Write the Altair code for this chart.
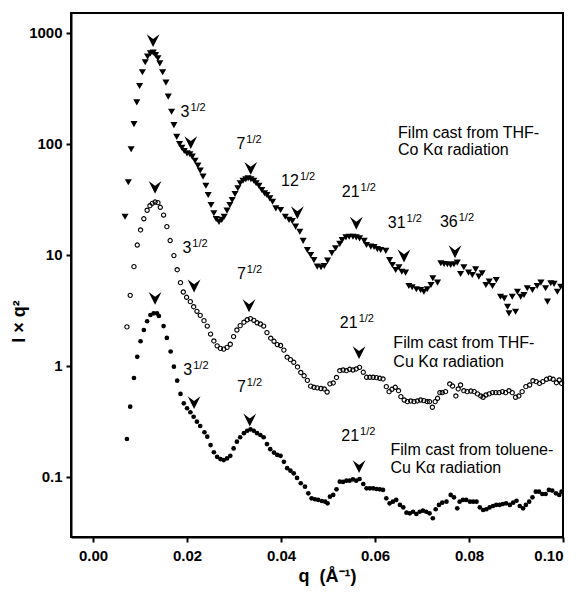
import altair as alt
import pandas as pd

FONT = "Liberation Sans"

# (q, I*q^2) — film cast from THF, Co K-alpha (filled down-triangles)
tri_points = [
    (0.0068, 22.1), (0.0075, 45.2), (0.0081, 89.6), (0.0087, 151), (0.0093, 237),
    (0.0099, 333), (0.0105, 443), (0.0111, 545), (0.0116, 612), (0.0122, 656),
    (0.0128, 665), (0.0133, 634), (0.0138, 592), (0.0142, 533), (0.0148, 443),
    (0.0155, 357), (0.0160, 267), (0.0167, 195), (0.0172, 148), (0.0178, 116),
    (0.0184, 100), (0.0189, 92.6), (0.0194, 86.5), (0.0200, 82.4), (0.0206, 80.8),
    (0.0211, 76.9), (0.0217, 70.7), (0.0223, 63.8), (0.0228, 57.5), (0.0234, 50.8),
    (0.0240, 42.1), (0.0245, 34.7), (0.0251, 28.2), (0.0257, 23.8), (0.0262, 21.1),
    (0.0268, 19.9), (0.0274, 20.7), (0.0279, 22.1), (0.0285, 25.1), (0.0291, 28.2),
    (0.0296, 31.3), (0.0302, 35.4), (0.0308, 39.9), (0.0313, 44.3), (0.0319, 46.7),
    (0.0325, 48.1), (0.0330, 49.1), (0.0336, 48.1), (0.0342, 46.7), (0.0347, 44.3),
    (0.0353, 42.1), (0.0359, 38.5), (0.0365, 35.9), (0.0370, 34.7), (0.0376, 32.4),
    (0.0382, 30.2), (0.0389, 26.3), (0.0399, 25.4), (0.0409, 22.1), (0.0417, 20.7),
    (0.0424, 20.2), (0.0431, 18.0), (0.0440, 16.2), (0.0447, 13.4), (0.0456, 11.1),
    (0.0463, 10.0), (0.0470, 9.0), (0.0477, 7.85), (0.0485, 7.75), (0.0492, 7.96),
    (0.0499, 8.89), (0.0508, 10.4), (0.0516, 11.5), (0.0525, 12.6), (0.0530, 13.6),
    (0.0538, 14.4), (0.0545, 14.6), (0.0553, 14.6), (0.0560, 14.4), (0.0567, 14.1),
    (0.0577, 13.4), (0.0582, 12.3), (0.0591, 11.9), (0.0598, 11.8), (0.0605, 11.3),
    (0.0612, 11.1), (0.0623, 10.9), (0.0631, 9.0), (0.0637, 8.13), (0.0644, 7.33),
    (0.0651, 7.75), (0.0657, 7.07), (0.0665, 6.93), (0.0672, 5.26), (0.0679, 5.12),
    (0.0688, 4.91), (0.0697, 4.84), (0.0704, 4.67), (0.0711, 4.91), (0.0719, 5.37),
    (0.0723, 6.17), (0.0733, 5.63), (0.0740, 8.42), (0.0747, 8.30), (0.0754, 8.25),
    (0.0761, 8.13), (0.0768, 8.25), (0.0775, 8.53), (0.0782, 6.74), (0.0789, 7.75),
    (0.0799, 6.93), (0.0807, 6.60), (0.0814, 7.43), (0.0821, 6.38), (0.0828, 6.84),
    (0.0836, 5.37), (0.0843, 5.75), (0.0850, 5.26), (0.0858, 5.95), (0.0867, 4.21),
    (0.0875, 4.07), (0.0882, 3.42), (0.0885, 2.98), (0.0892, 4.21), (0.0899, 3.08),
    (0.0903, 4.67), (0.0910, 4.21), (0.0917, 4.36), (0.0924, 5.01), (0.0935, 4.84),
    (0.0945, 5.26), (0.0953, 5.63), (0.0963, 5.01), (0.0967, 3.80), (0.0974, 5.56),
    (0.0981, 5.49), (0.0988, 4.67), (0.0995, 5.18),
]

# film cast from THF, Cu K-alpha (open circles)
open_points = [
    (0.0072, 2.25), (0.0079, 4.33), (0.0087, 7.85), (0.0094, 12.3), (0.0101, 16.8),
    (0.0108, 21.2), (0.0115, 25.3), (0.0121, 27.8), (0.0126, 29.2), (0.0132, 30.0),
    (0.0138, 29.6), (0.0143, 26.9), (0.0150, 22.9), (0.0157, 18.0), (0.0164, 13.5),
    (0.0172, 9.88), (0.0179, 7.37), (0.0186, 5.63), (0.0192, 4.64), (0.0199, 4.16),
    (0.0207, 3.80), (0.0214, 3.42), (0.0221, 3.11), (0.0228, 2.86), (0.0236, 2.56),
    (0.0243, 2.29), (0.0250, 1.94), (0.0257, 1.68), (0.0264, 1.52), (0.0271, 1.44),
    (0.0278, 1.42), (0.0285, 1.47), (0.0292, 1.57), (0.0299, 1.84), (0.0306, 2.11),
    (0.0313, 2.31), (0.0321, 2.48), (0.0328, 2.61), (0.0335, 2.67), (0.0342, 2.58),
    (0.0349, 2.45), (0.0356, 2.39), (0.0363, 2.29), (0.0370, 2.00), (0.0378, 1.78),
    (0.0385, 1.67), (0.0392, 1.56), (0.0399, 1.53), (0.0406, 1.39), (0.0413, 1.20),
    (0.0420, 1.14), (0.0427, 1.08), (0.0435, 0.98), (0.0442, 0.874), (0.0449, 0.816),
    (0.0456, 0.743), (0.0463, 0.658), (0.0470, 0.643), (0.0477, 0.636), (0.0485, 0.627),
    (0.0492, 0.621), (0.0498, 0.583), (0.0504, 0.691), (0.0511, 0.703), (0.0518, 0.788),
    (0.0525, 0.907), (0.0532, 0.920), (0.0539, 0.907), (0.0546, 0.934), (0.0553, 0.920),
    (0.0560, 0.940), (0.0567, 0.973), (0.0575, 0.878), (0.0582, 0.791), (0.0589, 0.791),
    (0.0596, 0.791), (0.0603, 0.785), (0.0610, 0.775), (0.0617, 0.764), (0.0624, 0.651),
    (0.0630, 0.587), (0.0636, 0.617), (0.0643, 0.643), (0.0650, 0.599), (0.0655, 0.529),
    (0.0662, 0.494), (0.0669, 0.477), (0.0676, 0.484), (0.0683, 0.477), (0.0690, 0.484),
    (0.0697, 0.494), (0.0704, 0.487), (0.0711, 0.477), (0.0716, 0.477), (0.0722, 0.425),
    (0.0728, 0.477), (0.0733, 0.512), (0.0738, 0.575), (0.0743, 0.575), (0.0750, 0.587),
    (0.0759, 0.689), (0.0765, 0.660), (0.0772, 0.537), (0.0777, 0.621), (0.0782, 0.674),
    (0.0789, 0.599), (0.0796, 0.587), (0.0804, 0.595), (0.0811, 0.587), (0.0818, 0.560),
    (0.0825, 0.537), (0.0830, 0.523), (0.0836, 0.548), (0.0843, 0.560), (0.0850, 0.575),
    (0.0857, 0.575), (0.0864, 0.575), (0.0871, 0.587), (0.0878, 0.575), (0.0885, 0.599),
    (0.0892, 0.575), (0.0899, 0.523), (0.0906, 0.537), (0.0913, 0.587), (0.0921, 0.651),
    (0.0929, 0.674), (0.0936, 0.737), (0.0943, 0.722), (0.0950, 0.698), (0.0957, 0.722),
    (0.0965, 0.759), (0.0972, 0.775), (0.0979, 0.759), (0.0986, 0.707), (0.0992, 0.748),
    (0.0997, 0.698),
]

# film cast from toluene, Cu K-alpha (filled circles)
filled_points = [
    (0.0072, 0.220), (0.0079, 0.430), (0.0087, 0.780), (0.0094, 1.21), (0.0101, 1.67),
    (0.0108, 2.11), (0.0115, 2.53), (0.0122, 2.88), (0.0129, 2.98), (0.0136, 2.98),
    (0.0140, 2.82), (0.0150, 2.29), (0.0157, 1.79), (0.0165, 1.35), (0.0172, 0.986),
    (0.0179, 0.737), (0.0186, 0.560), (0.0193, 0.461), (0.0200, 0.416), (0.0207, 0.383),
    (0.0214, 0.349), (0.0221, 0.315), (0.0228, 0.288), (0.0237, 0.253), (0.0243, 0.231),
    (0.0250, 0.194), (0.0257, 0.167), (0.0264, 0.152), (0.0271, 0.145), (0.0278, 0.142),
    (0.0285, 0.147), (0.0292, 0.155), (0.0299, 0.181), (0.0306, 0.208), (0.0313, 0.228),
    (0.0321, 0.248), (0.0328, 0.261), (0.0335, 0.269), (0.0342, 0.261), (0.0349, 0.248),
    (0.0356, 0.239), (0.0363, 0.228), (0.0370, 0.198), (0.0377, 0.178), (0.0385, 0.166),
    (0.0392, 0.158), (0.0399, 0.155), (0.0406, 0.137), (0.0413, 0.120), (0.0420, 0.114),
    (0.0427, 0.108), (0.0434, 0.098), (0.0442, 0.0878), (0.0451, 0.0818), (0.0458, 0.0713),
    (0.0465, 0.0643), (0.0472, 0.0630), (0.0479, 0.0621), (0.0487, 0.0608), (0.0494, 0.0599),
    (0.0499, 0.0579), (0.0504, 0.0665), (0.0511, 0.0689), (0.0518, 0.0775), (0.0525, 0.0908),
    (0.0532, 0.0902), (0.0539, 0.0927), (0.0546, 0.0927), (0.0553, 0.0953), (0.0560, 0.0927),
    (0.0567, 0.0959), (0.0575, 0.0865), (0.0582, 0.0791), (0.0589, 0.0791), (0.0596, 0.0791),
    (0.0603, 0.0780), (0.0610, 0.0775), (0.0617, 0.0764), (0.0624, 0.0643), (0.0631, 0.0579),
    (0.0638, 0.0599), (0.0645, 0.0621), (0.0653, 0.0560), (0.0660, 0.0533), (0.0667, 0.0477),
    (0.0674, 0.0471), (0.0681, 0.0486), (0.0688, 0.0464), (0.0695, 0.0486), (0.0702, 0.0497),
    (0.0709, 0.0486), (0.0716, 0.0471), (0.0723, 0.0425), (0.0729, 0.0512), (0.0736, 0.0560),
    (0.0743, 0.0587), (0.0752, 0.0599), (0.0761, 0.0689), (0.0768, 0.0656), (0.0775, 0.0522),
    (0.0780, 0.0599), (0.0787, 0.0621), (0.0794, 0.0621), (0.0802, 0.0599), (0.0809, 0.0599),
    (0.0816, 0.0599), (0.0823, 0.0533), (0.0830, 0.0504), (0.0837, 0.0512), (0.0844, 0.0533),
    (0.0851, 0.0548), (0.0858, 0.0560), (0.0865, 0.0560), (0.0872, 0.0571), (0.0879, 0.0579),
    (0.0887, 0.0560), (0.0894, 0.0587), (0.0901, 0.0611), (0.0908, 0.0548), (0.0915, 0.0522),
    (0.0921, 0.0560), (0.0928, 0.0599), (0.0935, 0.0656), (0.0942, 0.0737), (0.0949, 0.0737),
    (0.0956, 0.0703), (0.0963, 0.0703), (0.0970, 0.0764), (0.0977, 0.0755), (0.0985, 0.0713),
    (0.0992, 0.0689), (0.0997, 0.0737),
]

# peak markers (down arrowheads)
arrow_points = [
    (0.01277, 853), (0.02079, 103), (0.03355, 60.4), (0.04347, 24.0), (0.05602, 19.3),
    (0.06617, 9.8), (0.07702, 10.7),
    (0.01319, 40.7), (0.02149, 5.26), (0.03319, 3.49), (0.0566, 1.32),
    (0.01319, 4.07), (0.02149, 0.467), (0.03334, 0.326), (0.0566, 0.124),
]

# sqrt labels: (q at join of number and exponent, value at baseline, number)
sqrt_labels = [
    (0.0205, 176, "3"), (0.0324, 89.6, "7"), (0.0438, 41.9, "12"), (0.0567, 33.5, "21"),
    (0.0665, 17.4, "31"), (0.0776, 17.8, "36"),
    (0.0209, 10.4, "3"), (0.0325, 6.04, "7"), (0.0563, 2.19, "21"),
    (0.0211, 0.830, "3"), (0.0325, 0.587, "7"), (0.0566, 0.212, "21"),
]

series_labels = [
    (0.0649, 125, "Film cast from THF-"), (0.0649, 88.3, "Co Kα radiation"),
    (0.0639, 1.60, "Film cast from THF-"), (0.0639, 1.093, "Cu Kα radiation"),
    (0.0633, 0.175, "Film cast from toluene-"), (0.0633, 0.120, "Cu Kα radiation"),
]

x_ticks = [0.0, 0.02, 0.04, 0.06, 0.08, 0.10]
y_ticks = [0.1, 1, 10, 100, 1000]

tri_df = pd.DataFrame(tri_points, columns=["q", "v"])
open_df = pd.DataFrame(open_points, columns=["q", "v"])
fill_df = pd.DataFrame(filled_points, columns=["q", "v"])
arrow_df = pd.DataFrame(arrow_points, columns=["q", "v"])
lab_df = pd.DataFrame(sqrt_labels, columns=["q", "v", "t"])
lab_df["sup"] = "1/2"
ser_df = pd.DataFrame(series_labels, columns=["q", "v", "t"])

xs = alt.Scale(domain=[-0.0047, 0.1], nice=False, zero=False)
ys = alt.Scale(type="log", domain=[0.0288, 1514], nice=False)

x_axis = alt.Axis(
    values=x_ticks, format=".2f", title="q\u00a0\u00a0(Å⁻¹)", labelPadding=6,
    titleX=256, titleY=39, titleAlign="center", titleBaseline="middle",
)
y_axis = alt.Axis(
    values=y_ticks, format="~g", title="I × q²", labelPadding=4,
    titleX=-52, titleY=308, titleAlign="center", titleBaseline="middle", titleAngle=-90,
)


def enc(**kw):
    return dict(
        x=alt.X("q:Q", scale=xs, axis=x_axis),
        y=alt.Y("v:Q", scale=ys, axis=y_axis),
        **kw,
    )


tri_layer = alt.Chart(tri_df).mark_point(
    shape="triangle-down", filled=True, color="black", size=50, opacity=1
).encode(**enc())

open_layer = alt.Chart(open_df).mark_point(
    shape="circle", filled=False, color="black", size=18, strokeWidth=1.1, opacity=1
).encode(**enc())

fill_layer = alt.Chart(fill_df).mark_point(
    shape="circle", filled=True, color="black", size=22, opacity=1
).encode(**enc())

arrow_layer = alt.Chart(arrow_df).mark_point(
    shape="M -1 -1 L 0 -0.25 L 1 -1 L 0 1 Z", filled=True, color="black", size=165, opacity=1
).encode(**enc())

base_text = alt.Chart(lab_df).mark_text(
    font=FONT, fontSize=16, align="right", baseline="alphabetic", color="black"
).encode(**enc(text="t:N"))

sup_text = alt.Chart(lab_df).mark_text(
    font=FONT, fontSize=11, align="left", baseline="alphabetic", dx=1, dy=-6, color="black"
).encode(**enc(text="sup:N"))

series_text = alt.Chart(ser_df).mark_text(
    font=FONT, fontSize=16, align="left", baseline="middle", color="black"
).encode(**enc(text="t:N"))

chart = (
    alt.layer(tri_layer, open_layer, fill_layer, arrow_layer, base_text, sup_text, series_text)
    .properties(
        width=492, height=524,
        autosize=alt.AutoSizeParams(type="none"),
        padding={"left": 63, "top": 5, "right": 6, "bottom": 50},
        background="white",
    )
    .configure_view(stroke="black", strokeWidth=2)
    .configure_axis(
        grid=False, domainColor="black", domainWidth=2, tickColor="black", tickWidth=2,
        tickSize=5, labelFont=FONT, labelFontSize=15, labelFontWeight="bold",
        labelColor="black", titleFont=FONT, titleFontSize=18, titleFontWeight="bold",
        titleColor="black",
    )
)

chart.save("out.html", embed_options={"renderer": "svg", "actions": False})
